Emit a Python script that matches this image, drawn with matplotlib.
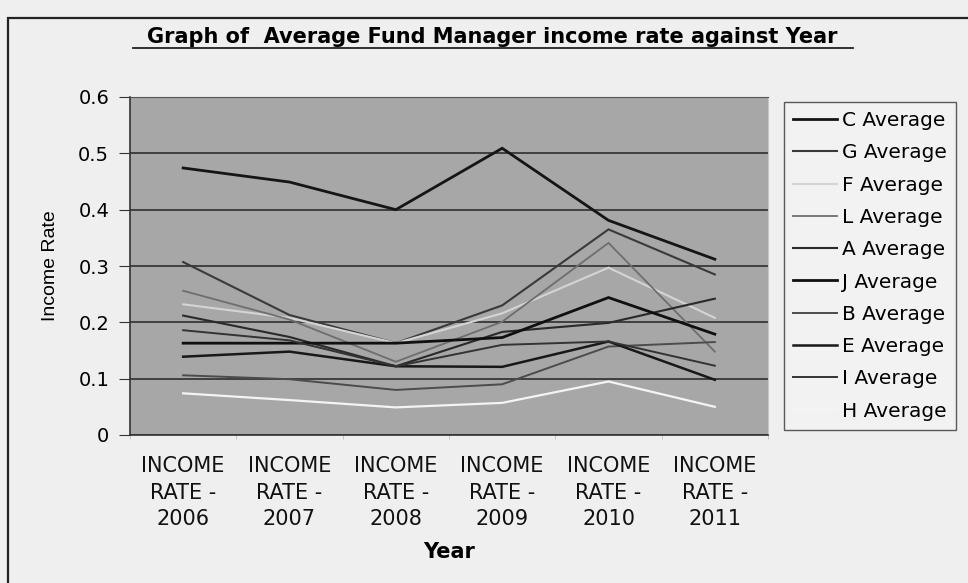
import matplotlib
matplotlib.use("Agg")
import matplotlib.pyplot as plt
from matplotlib.patches import Rectangle

categories = ["INCOME\nRATE -\n2006", "INCOME\nRATE -\n2007", "INCOME\nRATE -\n2008",
              "INCOME\nRATE -\n2009", "INCOME\nRATE -\n2010", "INCOME\nRATE -\n2011"]
y_ticks = [0, 0.1, 0.2, 0.3, 0.4, 0.5, 0.6]
y_tick_labels = ["0", "0.1", "0.2", "0.3", "0.4", "0.5", "0.6"]

c_avg = [0.474, 0.449, 0.400, 0.509, 0.381, 0.312]
g_avg = [0.307, 0.213, 0.163, 0.230, 0.365, 0.285]
f_avg = [0.232, 0.208, 0.163, 0.216, 0.297, 0.208]
l_avg = [0.256, 0.205, 0.130, 0.201, 0.341, 0.148]
a_avg = [0.212, 0.174, 0.122, 0.183, 0.199, 0.242]
j_avg = [0.163, 0.163, 0.163, 0.173, 0.244, 0.179]
b_avg = [0.106, 0.099, 0.080, 0.090, 0.157, 0.165]
e_avg = [0.139, 0.148, 0.122, 0.121, 0.166, 0.098]
i_avg = [0.186, 0.168, 0.122, 0.160, 0.166, 0.123]
h_avg = [0.074, 0.062, 0.049, 0.057, 0.095, 0.050]

series_names = ["C Average", "G Average", "F Average", "L Average", "A Average",
                "J Average", "B Average", "E Average", "I Average", "H Average"]
series_values = [c_avg, g_avg, f_avg, l_avg, a_avg, j_avg, b_avg, e_avg, i_avg, h_avg]
series_colors = ["#151515", "#3a3a3a", "#d4d4d4", "#6e6e6e", "#2a2a2a",
                 "#101010", "#4c4c4c", "#181818", "#333333", "#f4f4f4"]
series_widths = [2.0, 1.5, 1.5, 1.3, 1.5, 2.0, 1.4, 1.8, 1.4, 1.6]

plt.rcParams['font.family'] = ['DejaVu Sans']

fig = plt.figure(figsize=(9.68, 5.83), dpi=100)
fig.patch.set_facecolor("#efefef")

# outer chart border (cut off at right and bottom as in the scan)
fig.patches.append(Rectangle((8 / 968, -0.05), 1.2, 1 - 18 / 583 + 0.05,
                             transform=fig.transFigure, fill=False,
                             edgecolor="#222222", linewidth=1.6))

ax = fig.add_axes([130 / 968, 1 - 435 / 583, (768 - 130) / 968, (435 - 97) / 583])
ax.set_facecolor("#a7a7a7")

x = list(range(len(categories)))
for vals, name, col, lw in zip(series_values, series_names, series_colors, series_widths):
    ax.plot(x, vals, color=col, linewidth=lw, label=name, solid_joinstyle="miter")

ax.set_xlim(-0.5, len(categories) - 0.5)
ax.set_ylim(0, 0.6)
ax.set_yticks(y_ticks)
ax.set_yticklabels(y_tick_labels, fontsize=14)
ax.yaxis.grid(True, color="#2e2e2e", linewidth=1.2)
ax.set_axisbelow(True)

ax.set_xticks(x)
ax.set_xticklabels(categories, fontsize=15, linespacing=1.42, color="#111111")
ax.tick_params(axis="x", length=0, pad=15)
ax.set_xticks([i + 0.5 for i in range(-1, len(categories))], minor=True)
ax.tick_params(axis="x", which="minor", length=3, color="#bbbbbb")
ax.tick_params(axis="y", length=8, color="#333333", pad=7)

for s in ["left", "bottom"]:
    ax.spines[s].set_color("#333333")
    ax.spines[s].set_linewidth(1.2)
ax.spines["top"].set_color("#555555")
ax.spines["right"].set_color("#c8c8c8")

ax.set_ylabel("Income Rate", fontsize=14, labelpad=14,
              family=['Liberation Sans', 'DejaVu Sans'])
ax.set_xlabel("Year", fontsize=15, fontweight="bold", labelpad=9)

fig.text(492 / 968, 1 - 37 / 583, "Graph of  Average Fund Manager income rate against Year",
         ha="center", va="center", fontsize=15, fontweight="bold")
fig.add_artist(plt.Line2D([133 / 968, 853 / 968], [1 - 48 / 583, 1 - 48 / 583],
                          color="#222222", linewidth=1.3, transform=fig.transFigure))

leg = ax.legend(loc="upper left", bbox_to_anchor=(784 / 968, 1 - 102 / 583),
                bbox_transform=fig.transFigure, frameon=True, fontsize=14.5,
                handlelength=2.2, handletextpad=0.25, labelspacing=0.66,
                borderpad=0.45, borderaxespad=0)
leg.get_frame().set_edgecolor("#333333")
leg.get_frame().set_facecolor("#f4f4f4")
leg.get_frame().set_linewidth(1.0)
leg.get_frame().set_boxstyle("square", pad=0)

fig.savefig("out.png", dpi=100, facecolor=fig.get_facecolor())
